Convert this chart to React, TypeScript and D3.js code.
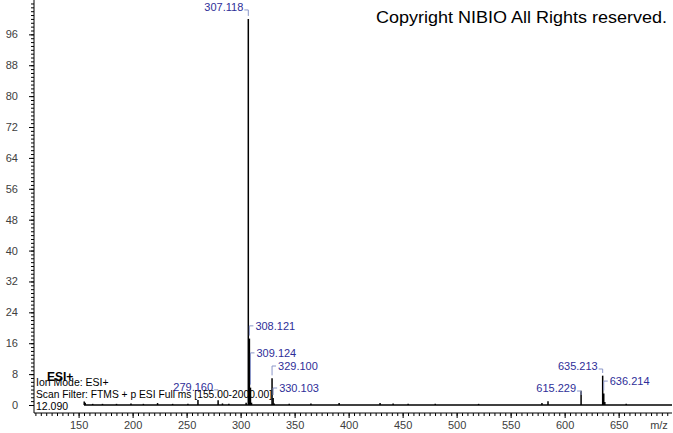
import React, { useEffect, useRef } from "react";
import * as d3 from "d3";

// centroid peaks (m/z, relative abundance %)
const peakMz = [
  155.2, 156.1, 163.0, 172.1, 185.1, 198.5, 210.0, 223.1, 237.0, 251.2, 260.5, 279.16, 283.2, 289.1,
  305.1, 307.118, 308.121, 309.124, 310.1, 329.1, 330.103, 331.1, 345.0, 365.1, 391.2, 429.1, 441.2,
  455.1, 480.2, 520.3, 579.0, 584.6, 615.229, 635.213, 636.214, 637.2, 657.0,
];
const peakIntensity = [
  0.9, 0.6, 0.3, 0.3, 0.3, 0.4, 0.3, 0.5, 0.3, 0.3, 1.3, 1.2, 0.4, 0.3, 0.6, 100, 17.2, 4.5, 0.6, 6.9,
  1.8, 0.4, 0.3, 0.4, 0.5, 0.5, 0.4, 0.3, 0.3, 0.3, 0.5, 1.0, 3.7, 7.6, 3.0, 0.8, 0.3,
];

// annotated peaks
const labelMz = [307.118, 308.121, 309.124, 329.1, 330.103, 279.16, 615.229, 635.213, 636.214];
const labelText = ["307.118", "308.121", "309.124", "329.100", "330.103", "279.160", "615.229", "635.213", "636.214"];
const labelSide = ["left", "right", "right", "right", "right", "left", "left", "left", "right"];

const yTicks = [0, 8, 16, 24, 32, 40, 48, 56, 64, 72, 80, 88, 96];
const xTicks = [150, 200, 250, 300, 350, 400, 450, 500, 550, 600, 650];

const infoLines = ["Ion Mode: ESI+", "Scan Filter: FTMS + p ESI Full ms [155.00-2000.00]", "12.090"];
const copyright = "Copyright NIBIO All Rights reserved.";

function App() {
  const ref = useRef<SVGSVGElement>(null);

  useEffect(() => {
    const svg = d3.select(ref.current);
    svg.selectAll("*").remove();

    const font = "'Liberation Sans', Arial, sans-serif";
    const x = d3.scaleLinear().domain([108.7, 699.4]).range([34, 672]);
    const y = d3.scaleLinear().domain([0, 104.9]).range([405, 0]);
    const axisY = 413;

    svg.append("rect").attr("width", 673).attr("height", 433).attr("fill", "#fff");

    // y axis: minor + major ticks
    const gy = svg.append("g").attr("transform", "translate(34,0)");
    gy.append("g")
      .call(d3.axisLeft(y).tickValues(d3.range(0, 105, 1)).tickSize(3).tickFormat(() => ""))
      .call((g) => g.select(".domain").remove());
    gy.append("g")
      .call(d3.axisLeft(y).tickValues(yTicks).tickSize(5).tickPadding(11).tickFormat(d3.format("d")))
      .call((g) => g.select(".domain").remove())
      .call((g) => g.selectAll("text").attr("font-family", font).attr("font-size", 11).attr("fill", "#404040"));
    gy.append("line").attr("x1", 0).attr("x2", 0).attr("y1", 0).attr("y2", axisY).attr("stroke", "#000");

    // x axis
    const gx = svg.append("g").attr("transform", `translate(0,${axisY})`);
    gx.append("g")
      .call(d3.axisBottom(x).tickValues(d3.range(110, 700, 5)).tickSize(3).tickFormat(() => ""))
      .call((g) => g.select(".domain").remove());
    gx.append("g")
      .call(d3.axisBottom(x).tickValues(xTicks).tickSize(5).tickPadding(3).tickFormat(d3.format("d")))
      .call((g) => g.select(".domain").remove())
      .call((g) => g.selectAll("text").attr("font-family", font).attr("font-size", 11).attr("fill", "#404040"));
    gx.append("line").attr("x1", 34).attr("x2", 672).attr("y1", 0).attr("y2", 0).attr("stroke", "#000");
    svg.append("text")
      .attr("x", 659).attr("y", axisY + 16)
      .attr("text-anchor", "middle")
      .attr("font-family", font).attr("font-size", 11).attr("fill", "#404040")
      .text("m/z");

    // spectrum baseline + sticks
    svg.append("line")
      .attr("x1", x(155)).attr("x2", 672)
      .attr("y1", y(0)).attr("y2", y(0))
      .attr("stroke", "#000").attr("stroke-width", 1.5);
    svg.append("g")
      .selectAll("line")
      .data(peakMz.map((m, i) => ({ m, v: peakIntensity[i] })))
      .enter().append("line")
      .attr("x1", (d) => x(d.m)).attr("x2", (d) => x(d.m))
      .attr("y1", y(0)).attr("y2", (d) => y(d.v))
      .attr("stroke", "#000").attr("stroke-width", 1.5);

    // annotation label heights (percent scale)
    const labelLift = [103.1, 20.5, 13.5, 10.1, 4.4, 4.7, 4.4, 10.1, 6.2];
    const ann = svg.append("g");
    labelMz.forEach((m, i) => {
      const px = x(m);
      const v = peakIntensity[peakMz.indexOf(m)];
      const top = y(v);
      const ly = y(labelLift[i]);
      const left = labelSide[i] === "left";
      const path = left
        ? `M${px - 4},${ly + 3}H${px}V${Math.max(ly + 7, top - 3)}`
        : `M${px + 4},${ly}H${px}V${Math.max(ly + 6, top - 3)}`;
      ann.append("path").attr("d", path).attr("fill", "none").attr("stroke", "#8a96c8").attr("stroke-width", 1);
      ann.append("text")
        .attr("x", left ? px - 5 : px + 6)
        .attr("y", ly + 4)
        .attr("text-anchor", left ? "end" : "start")
        .attr("font-family", font).attr("font-size", 11).attr("fill", "#2e2e98")
        .text(labelText[i]);
    });

    // header info block
    svg.append("text")
      .attr("x", 47).attr("y", 381)
      .attr("font-family", font).attr("font-size", 12).attr("font-weight", "bold").attr("fill", "#000")
      .text("ESI+");
    const lineY = [386, 398, 410];
    infoLines.forEach((t, i) => {
      const el = svg.append("text")
        .attr("x", 36).attr("y", lineY[i])
        .attr("font-family", font).attr("font-size", 10.5).attr("fill", "#000")
        .text(t);
      if (i === 1) el.attr("textLength", 236).attr("lengthAdjust", "spacingAndGlyphs");
    });

    svg.append("text")
      .attr("x", 667).attr("y", 23)
      .attr("text-anchor", "end")
      .attr("font-family", font).attr("font-size", 17)
      .attr("textLength", 291).attr("lengthAdjust", "spacingAndGlyphs")
      .attr("fill", "#000")
      .text(copyright);
  }, []);

  return (
    <svg ref={ref} width={673} height={433} style={{ position: "absolute", left: 0, top: 0 }} />
  );
}

export default App;
